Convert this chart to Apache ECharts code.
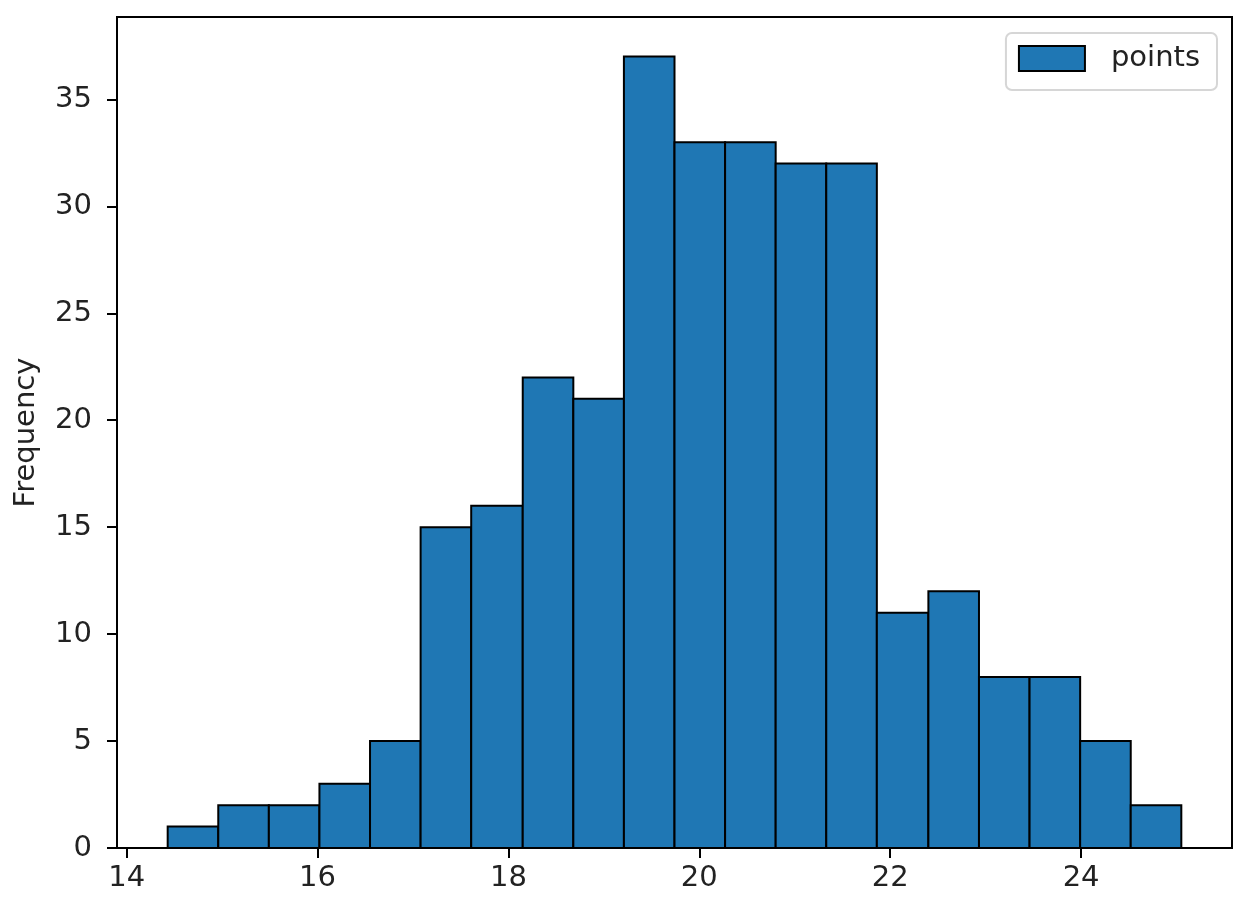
<!DOCTYPE html>
<html>
<head>
<meta charset="utf-8">
<script src="https://cdn.jsdelivr.net/npm/echarts@6/dist/echarts.min.js"></script>
<style>
  html, body { margin: 0; padding: 0; background: #fff; }
  #main { width: 1253px; height: 918px; }
</style>
</head>
<body>
<div id="main"></div>
<script>
// bin edges and bar heights
var binEdges = [14.43, 14.96, 15.49, 16.02, 16.55, 17.08, 17.61, 18.15, 18.68, 19.21,
                19.74, 20.27, 20.80, 21.33, 21.86, 22.40, 22.93, 23.46, 23.99, 24.52, 25.05];
var counts = [1, 2, 2, 3, 5, 15, 16, 22, 21, 37, 33, 33, 32, 32, 11, 12, 8, 8, 5, 2];
var xTicks = [14, 16, 18, 20, 22, 24];
var yTicks = [0, 5, 10, 15, 20, 25, 30, 35];
var seriesName = 'points';

var data = [];
for (var i = 0; i < counts.length; i++) {
    data.push([binEdges[i], binEdges[i + 1], counts[i]]);
}

var span = binEdges[binEdges.length - 1] - binEdges[0];
var xMin = binEdges[0] - span * 0.05;
var xMax = binEdges[binEdges.length - 1] + span * 0.05;
var yMax = Math.max.apply(null, counts) * 1.05;

var txt = { color: '#222', fontFamily: 'DejaVu Sans', fontSize: 29 };

var myChart = echarts.init(document.getElementById('main'));
var option = {
    animation: false,
    grid: {
        left: 117, right: 21, top: 17, bottom: 70,
        show: true, borderColor: '#000', borderWidth: 2, backgroundColor: '#fff'
    },
    legend: {
        right: 36, top: 33,
        padding: [11, 17, 17, 12],
        backgroundColor: '#fff',
        borderColor: '#d6d6d6', borderWidth: 2, borderRadius: 6,
        itemWidth: 66, itemHeight: 25,
        icon: 'rect',
        textStyle: { color: '#222', fontFamily: 'DejaVu Sans', fontSize: 29, padding: [0, 0, 0, 21] },
        data: [{ name: seriesName, itemStyle: { color: '#1f77b4', borderColor: '#000', borderWidth: 2 } }]
    },
    xAxis: {
        type: 'value', min: xMin, max: xMax,
        splitLine: { show: false },
        axisLine: { show: true, onZero: false, lineStyle: { color: '#000', width: 2 } },
        axisTick: { show: true, length: 10, lineStyle: { color: '#000', width: 2 }, customValues: xTicks },
        axisLabel: Object.assign({ margin: 16, customValues: xTicks }, txt)
    },
    yAxis: {
        type: 'value', min: 0, max: yMax,
        name: 'Frequency', nameLocation: 'middle', nameGap: 76, nameRotate: 90,
        nameTextStyle: txt,
        splitLine: { show: false },
        axisLine: { show: true, lineStyle: { color: '#000', width: 2 } },
        axisTick: { show: true, length: 10, lineStyle: { color: '#000', width: 2 }, customValues: yTicks },
        axisLabel: Object.assign({ margin: 25, customValues: yTicks }, txt)
    },
    series: [{
        name: seriesName,
        type: 'custom',
        itemStyle: { color: '#1f77b4', borderColor: '#000', borderWidth: 2 },
        renderItem: function (params, api) {
            var p0 = api.coord([api.value(0), 0]);
            var p1 = api.coord([api.value(1), api.value(2)]);
            return {
                type: 'rect',
                shape: { x: p0[0], y: p1[1], width: p1[0] - p0[0], height: p0[1] - p1[1] },
                style: { fill: '#1f77b4', stroke: '#000', lineWidth: 2 }
            };
        },
        encode: { x: [0, 1], y: 2 },
        data: data
    }]
};
myChart.setOption(option);
</script>
</body>
</html>
